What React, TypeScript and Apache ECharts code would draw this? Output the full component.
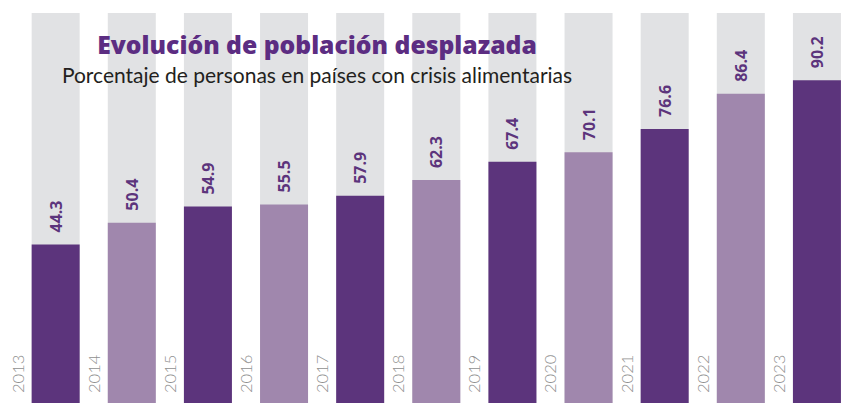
import React, { useEffect, useRef } from "react";
import * as echarts from "echarts";

const years = ["2013", "2014", "2015", "2016", "2017", "2018", "2019", "2020", "2021", "2022", "2023"];
const values = [44.3, 50.4, 54.9, 55.5, 57.9, 62.3, 67.4, 70.1, 76.6, 86.4, 90.2];
const titleText = "Evolución de población desplazada";
const subtitleText = "Porcentaje de personas en países con crisis alimentarias";

const DARK = "#5c347c";
const LIGHT = "#a087ad";
const BG = "#e1e2e4";

export default function App() {
  const ref = useRef<HTMLDivElement>(null);
  useEffect(() => {
    if (!ref.current) return;
    const chart = echarts.init(ref.current, undefined, { renderer: "svg" });
    chart.setOption({
      animation: false,
      grid: { left: 17.6, top: 13, width: 844.8, height: 390, containLabel: false },
      xAxis: [
        {
          type: "category",
          data: years,
          show: false,
        },
        {
          type: "value",
          min: 0,
          max: 11,
          interval: 1,
          position: "bottom",
          axisLine: { show: false },
          axisTick: { show: false },
          splitLine: { show: false },
          axisLabel: {
            inside: true,
            rotate: 90,
            margin: 10,
            align: "left",
            verticalAlign: "middle",
            color: "#909090",
            fontFamily: "Lato",
            fontWeight: 300,
            fontSize: 16.5,
            showMaxLabel: false,
            formatter: (v: number) => years[v] ?? "",
          },
        },
      ],
      yAxis: { type: "value", min: 0, max: 109, show: false },
      series: [
        {
          type: "bar",
          xAxisIndex: 0,
          barWidth: 48,
          showBackground: true,
          backgroundStyle: { color: BG },
          data: values.map((v, i) => ({ value: v, itemStyle: { color: i % 2 === 0 ? DARK : LIGHT } })),
          label: {
            show: true,
            position: "top",
            distance: 12,
            rotate: 90,
            align: "left",
            verticalAlign: "middle",
            color: DARK,
            fontFamily: "Open Sans",
            fontWeight: "bold",
            fontSize: 16,
            formatter: (p: any) => p.value.toFixed(1),
          },
        },
      ],
      graphic: [
        {
          type: "text",
          x: 317,
          y: 44,
          z: 100,
          style: {
            text: titleText,
            textAlign: "center",
            textVerticalAlign: "middle",
            fill: "#5c2d82",
            font: "800 24.7px 'Open Sans'",
          },
        },
        {
          type: "text",
          x: 317,
          y: 74,
          z: 100,
          style: {
            text: subtitleText,
            textAlign: "center",
            textVerticalAlign: "middle",
            fill: "#231f20",
            font: "21px Lato",
          },
        },
      ],
    });
    return () => chart.dispose();
  }, []);
  return (
    <div
      ref={ref}
      style={{ position: "absolute", left: 0, top: 0, width: 855, height: 404 }}
    />
  );
}
